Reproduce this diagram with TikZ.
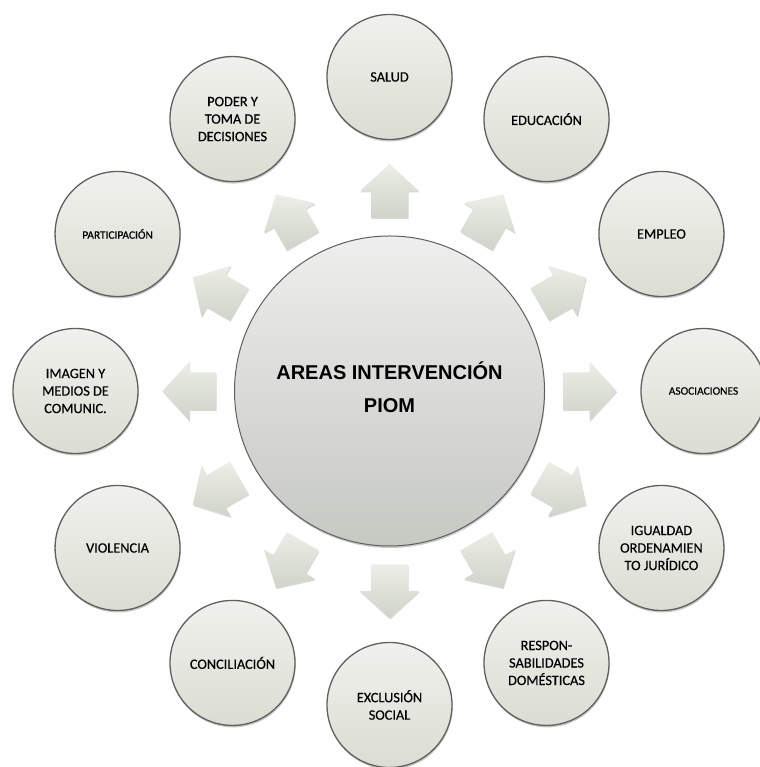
\documentclass[tikz,border=0pt]{standalone}
\usepackage{fontspec}
\setmainfont{Carlito}
\newfontfamily\bubblefont{Carlito}[FakeBold=0.45]
\newfontfamily\headfont{Liberation Sans}
\usetikzlibrary{calc,shadows}
\definecolor{outtop}{RGB}{240,241,237}
\definecolor{outbot}{RGB}{219,221,210}
\definecolor{midtop}{RGB}{238,238,238}
\definecolor{midbot}{RGB}{198,200,194}
\definecolor{arrtop}{RGB}{236,238,231}
\definecolor{arrbot}{RGB}{208,211,200}
\definecolor{rim}{RGB}{95,95,95}
\begin{document}
\begin{tikzpicture}[x=1pt,y=1pt,
  outer/.style={circle, draw=rim, line width=1.3pt, top color=outtop, bottom color=outbot,
    minimum size=125pt, inner sep=0pt, align=center, text=black,
    font=\bubblefont\fontsize{14.3}{17.5}\selectfont,
    drop shadow={shadow xshift=0.6pt, shadow yshift=-2pt, opacity=0.3, fill=black!70}},
  hub/.style={circle, draw=rim, line width=1pt, top color=midtop, bottom color=midbot,
    minimum size=310pt, inner sep=0pt, align=center,
    font=\headfont\bfseries\fontsize{20}{33}\selectfont,
    drop shadow={shadow xshift=0.6pt, shadow yshift=-2pt, opacity=0.3, fill=black!70}},
  blockarrow/.style={top color=arrtop, bottom color=arrbot, draw=none,
    drop shadow={shadow xshift=0.6pt, shadow yshift=-1.5pt, opacity=0.22, fill=black!70}},
  smalltxt/.style={font=\bubblefont\fontsize{11.4}{14}\selectfont}
]
\useasboundingbox (0,0) rectangle (759,767);
\coordinate (C) at (389.5,376);
\node[hub] (c) at (C) {AREAS INTERVENCIÓN\\PIOM\rule[-7pt]{0pt}{7pt}};

\node[outer] (salud) at ($(C)+(90:314)$) {SALUD};
\node[outer] (educ) at ($(C)+(60:314)$) {EDUCACIÓN};
\node[outer] (empleo) at ($(C)+(30:314)$) {EMPLEO};
\node[outer,smalltxt] (asoc) at ($(C)+(0:314)$) {ASOCIACIONES};
\node[outer] (igual) at ($(C)+(-30:314)$) {IGUALDAD\\ORDENAMIEN\\TO JURÍDICO};
\node[outer] (respon) at ($(C)+(-60:314)$) {RESPON-\\SABILIDADES\\DOMÉSTICAS};
\node[outer] (exclu) at ($(C)+(-90:314)$) {EXCLUSIÓN\\SOCIAL};
\node[outer] (conci) at ($(C)+(-120:314)$) {CONCILIACIÓN};
\node[outer] (viol) at ($(C)+(-150:314)$) {VIOLENCIA};
\node[outer] (imagen) at ($(C)+(180:314)$) {IMAGEN Y\\MEDIOS DE\\COMUNIC.};
\node[outer,smalltxt] (parti) at ($(C)+(150:314)$) {PARTICIPACIÓN};
\node[outer] (poder) at ($(C)+(120:314)$) {PODER Y\\TOMA DE\\DECISIONES};

\foreach \n in {salud,educ,empleo,asoc,igual,respon,exclu,conci,viol,imagen,parti,poder}{
  \path[blockarrow]
    ($(c)!173.5pt!(\n)!18.5pt!90:(\n)$) --
    ($(c)!200pt!(\n)!18.5pt!90:(\n)$) --
    ($(c)!200pt!(\n)!29.5pt!90:(\n)$) --
    ($(c)!227pt!(\n)$) --
    ($(c)!200pt!(\n)!29.5pt!-90:(\n)$) --
    ($(c)!200pt!(\n)!18.5pt!-90:(\n)$) --
    ($(c)!173.5pt!(\n)!18.5pt!-90:(\n)$) -- cycle;
}
\end{tikzpicture}
\end{document}
